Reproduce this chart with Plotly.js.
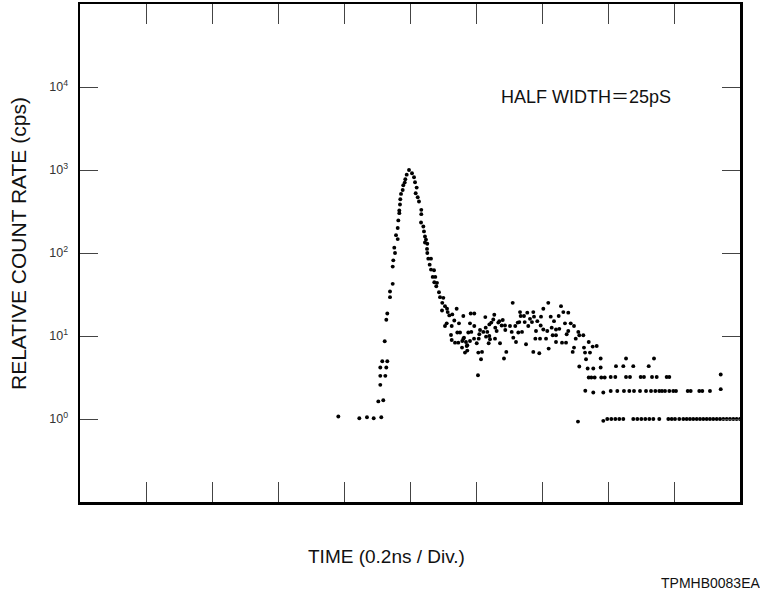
<!DOCTYPE html>
<html>
<head>
<meta charset="utf-8">
<script src="https://cdn.plot.ly/plotly-3.0.1.min.js"></script>
<style>html,body{margin:0;padding:0;background:#fff;}#chart{width:760px;height:592px;}</style>
</head>
<body>
<div id="chart"></div>
<script>
// Time in divisions (0.2 ns / div), counts in cps
const riseX = [3.914,4.232,4.348,4.45,4.565,4.52,4.595,4.55,4.55,4.626,4.55,4.641,4.58,4.656,4.617,4.641,4.656,4.697,4.697,4.738,4.738,4.747,4.773,4.762,4.814,4.788,4.814,4.823,4.838,4.838,4.848,4.853,4.864,4.889,4.898,4.92,4.929,4.95,4.985];
const riseY = [1.07,1.02,1.05,1.02,1.05,1.63,1.68,2.58,3.31,3.31,4.17,4.17,4.97,4.97,8.63,15.7,18.7,29.4,34.4,42.5,68.6,81.6,100,116,147,164,200,247,302,325,384,445,515,575,655,705,773,879,1000];

const decayX = [5.03,5.061,5.076,5.101,5.086,5.117,5.136,5.171,5.171,5.167,5.202,5.212,5.227,5.242,5.227,5.262,5.258,5.262,5.277,5.318,5.298,5.318,5.364,5.344,5.383,5.368,5.409,5.398,5.439,5.455,5.505,5.489,5.53,5.561,5.571,5.485,5.595,5.641,5.707,5.556,5.53,5.671,5.742,5.808,5.632,5.717,5.758,5.621,5.632,5.682,5.732,5.818,5.792,5.848,5.883,5.859,5.833];
const decayY = [912,817,711,614,525,470,417,331,294,233,209,182,158,145,134,129,112,100,85.5,85.5,72.4,63.1,61.9,51.5,51.5,44.5,43.7,39.8,33.7,29.4,28.8,25.1,22.9,21.3,19.4,20.3,17.7,18.2,21.3,14.2,13.2,15.4,14.2,17.4,13.2,11.0,11.0,10.3,8.95,8.32,8.32,9.55,8.71,8.47,11.0,7.59,6.31];

const plateauX = [5.92,5.974,5.909,5.974,5.808,5.788,5.868,5.868,5.909,5.929,5.97,6.041,6.05,6.061,6.011,6.035,6.091,6.076,6.03,6.111,6.141,6.147,6.202,6.171,6.232,6.262,6.277,6.202,6.152,6.212,6.192,6.288,6.292,6.313,6.338,6.364,6.353,6.405,6.389,6.439,6.444,6.459,6.424,6.515,6.556,6.541,6.565,6.595,6.606,6.632,6.656,6.667,6.677,6.727,6.738,6.641,6.697,6.758,6.777,6.792,6.818,6.848,6.868,6.879,6.909,6.929,6.899,6.868,6.959,6.97,6.985,6.98,7.02,7.02,7.061,7.095,7.101,7.08,7.132,7.147,7.162,7.182,7.212,7.212,7.212,7.253,7.262,7.288,7.303,7.323,7.348,7.364,7.374,7.398,7.398,7.435,7.465,7.485,7.485,7.511,7.55,7.565,7.626,7.565,7.545,7.636,7.652,7.667,7.708,7.727,7.768,7.829,7.692,7.777,7.708,7.747,7.798,7.656,7.777,7.889,7.889,7.898,7.95,7.929,7.929];
const plateauY = [18.7,18.7,14.2,13.2,9.29,7.25,7.73,6.67,8.71,11.2,9.29,9.29,10.5,11.8,8.17,6.31,6.43,5.25,3.37,11.2,16.9,12.6,13.8,11.2,14.5,15.8,18.0,10.0,9.82,9.12,8.17,9.29,12.6,11.5,14.5,8.17,15.1,15.6,13.4,13.4,11.8,6.43,5.35,13.2,25.1,11.2,9.55,13.2,8.47,14.5,14.7,19.4,17.4,17.4,14.7,11.0,11.2,7.94,19.1,13.2,16.1,14.7,19.4,17.1,11.5,15.1,9.29,6.43,6.19,9.29,17.1,13.4,21.3,12.0,9.29,25.1,7.05,11.5,17.1,12.6,10.2,15.1,10.2,8.47,12.0,17.4,12.2,22.9,8.32,19.4,14.2,8.32,10.5,19.1,11.5,14.2,6.43,7.25,13.2,9.29,11.2,10.2,10.2,4.29,0.93,7.25,6.31,5.25,8.47,6.31,7.45,7.59,4.06,4.06,3.16,3.16,3.16,2.19,2.09,5.35,4.17,3.16,3.16,2.09,0.95];

const tailX = [8.041,8.111,8.273,8.333,8.495,8.545,8.667,8.738,8.889,8.929,9.708,8.121,8.232,8.383,8.617,8.273,8.697,8.041,8.141,8.242,8.323,8.394,8.485,8.576,8.652,8.717,8.777,8.818,8.864,8.929,8.989,9.03,9.208,9.253,9.383,9.429,9.545,9.708,7.989,8.05,8.111,8.171,8.232,8.383,8.444,8.505,8.565,8.626,8.687,8.777,8.914,8.965,9.015,9.08,9.141,9.192,9.242,9.292,9.344,9.394,9.444,9.495,9.545,9.595,9.647,9.697,9.747,9.798,9.848,9.899,9.949,10.0];
const tailY = [3.2,3.2,3.2,3.2,3.2,3.2,3.2,3.2,3.2,3.2,3.44,4.33,4.33,4.33,4.33,5.35,5.35,2.17,2.17,2.17,2.17,2.17,2.17,2.17,2.17,2.17,2.17,2.17,2.17,2.17,2.17,2.17,2.17,2.17,2.17,2.17,2.17,2.29,1,1,1,1,1,1,1,1,1,1,1,1,1,1,1,1,1,1,1,1,1,1,1,1,1,1,1,1,1,1,1,1,1,1];

const xTicks = [1,2,3,4,5,6,7,8,9];
const yTicks = [1,10,100,1000,10000];
const yTickText = ['10<sup>0</sup>','10<sup>1</sup>','10<sup>2</sup>','10<sup>3</sup>','10<sup>4</sup>'];

const font = 'Liberation Sans, Arial, Helvetica, sans-serif';
const marker = {size: 3.9, color: '#000', symbol: 'circle'};
const traces = [
  {x: riseX, y: riseY},
  {x: decayX, y: decayY},
  {x: plateauX, y: plateauY},
  {x: tailX, y: tailY}
].map(t => Object.assign(t, {type: 'scatter', mode: 'markers', marker: marker, hoverinfo: 'skip', cliponaxis: false}));

const layout = {
  width: 760, height: 592,
  margin: {l: 80, r: 20, t: 4, b: 90},
  paper_bgcolor: '#fff', plot_bgcolor: '#fff',
  showlegend: false,
  font: {family: font, color: '#111'},
  xaxis: {
    range: [0, 10], showgrid: false, zeroline: false,
    showline: true, linecolor: '#000', linewidth: 2.5, mirror: 'allticks',
    ticks: 'inside', ticklen: 20, tickwidth: 1, tickcolor: '#444',
    tickvals: xTicks, showticklabels: false
  },
  yaxis: {
    type: 'log', range: [-1, 5], showgrid: false, zeroline: false,
    showline: true, linecolor: '#000', linewidth: 2.5, mirror: 'allticks',
    ticks: 'inside', ticklen: 18, tickwidth: 1, tickcolor: '#444',
    tickvals: yTicks, ticktext: yTickText, ticklabelstandoff: 7,
    tickfont: {size: 12.5, color: '#333', family: font}
  },
  annotations: [
    {text: 'RELATIVE COUNT RATE (cps)', xref: 'paper', yref: 'paper',
     x: -0.094, y: 0.52, xanchor: 'center', yanchor: 'middle', textangle: -90,
     showarrow: false, font: {size: 21, color: '#111', family: font}},
    {text: 'TIME (0.2ns / Div.)', xref: 'paper', yref: 'paper',
     x: 0.464, y: -0.109, xanchor: 'center', yanchor: 'middle',
     showarrow: false, font: {size: 19, color: '#111', family: font}},
    {text: 'HALF WIDTH<span style="font-family:Noto Sans CJK JP">＝</span>25pS', xref: 'paper', yref: 'paper',
     x: 0.635, y: 0.818, xanchor: 'left', yanchor: 'middle',
     showarrow: false, font: {size: 18, color: '#111', family: font}},
    {text: 'TPMHB0083EA', xref: 'paper', yref: 'paper',
     x: 1.034, y: -0.162, xanchor: 'right', yanchor: 'middle',
     showarrow: false, font: {size: 14, color: '#111', family: font}}
  ]
};

Plotly.newPlot('chart', traces, layout, {staticPlot: true, displayModeBar: false});
</script>
</body>
</html>
